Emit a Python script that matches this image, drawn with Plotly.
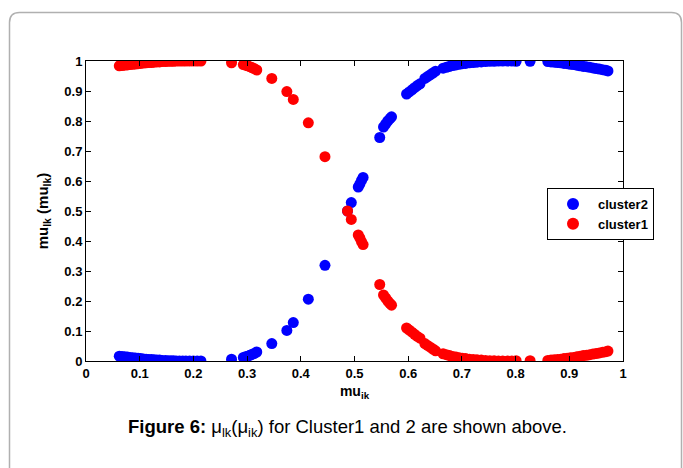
import plotly.graph_objects as go

# ---- data ----
mu_ik = [
    0.062, 0.067, 0.072, 0.077, 0.082, 0.087, 0.092, 0.097, 0.102, 0.107,
    0.112, 0.117, 0.122, 0.127, 0.132, 0.137, 0.142, 0.148, 0.153, 0.158,
    0.163, 0.168, 0.174, 0.180, 0.186, 0.193, 0.200, 0.207, 0.214,
    0.271,
    0.293, 0.297, 0.301, 0.305, 0.309, 0.313, 0.318,
    0.346, 0.374, 0.386, 0.414, 0.445,
    0.487, 0.494,
    0.507, 0.510, 0.513, 0.516,
    0.547,
    0.554, 0.558, 0.562, 0.566, 0.569,
    0.597, 0.602, 0.607, 0.612, 0.617, 0.622,
    0.631, 0.636, 0.641, 0.646, 0.651,
    0.665, 0.671, 0.677, 0.683, 0.689, 0.695, 0.701, 0.707, 0.714, 0.721,
    0.728, 0.736, 0.744, 0.752, 0.760, 0.768, 0.776, 0.785, 0.793, 0.801,
    0.827,
    0.860, 0.866, 0.872, 0.878, 0.884, 0.890, 0.896, 0.902, 0.908, 0.914,
    0.920, 0.926, 0.932, 0.938, 0.944, 0.950, 0.956, 0.962, 0.968, 0.972,
]

cluster1 = [
    0.984, 0.985, 0.986, 0.987, 0.988, 0.989, 0.990, 0.991, 0.992, 0.993,
    0.994, 0.995, 0.995, 0.996, 0.997, 0.997, 0.998, 0.998, 0.999, 0.999,
    0.999, 1.000, 1.000, 1.000, 1.000, 1.000, 1.000, 1.000, 1.000,
    0.994,
    0.988, 0.986, 0.984, 0.981, 0.978, 0.975, 0.970,
    0.942, 0.898, 0.872, 0.794, 0.681,
    0.500, 0.472,
    0.420, 0.410, 0.398, 0.388,
    0.255,
    0.220, 0.210, 0.200, 0.192, 0.186,
    0.110, 0.103, 0.096, 0.089, 0.082, 0.076,
    0.058, 0.052, 0.046, 0.040, 0.034,
    0.024, 0.021, 0.018, 0.015, 0.013, 0.011, 0.009, 0.008, 0.006, 0.005,
    0.004, 0.003, 0.002, 0.001, 0.001, 0.000, 0.000, 0.000, 0.000, 0.001,
    0.001,
    0.002, 0.003, 0.004, 0.005, 0.006, 0.008, 0.009, 0.011, 0.012, 0.014,
    0.016, 0.018, 0.019, 0.021, 0.023, 0.025, 0.027, 0.029, 0.031, 0.033,
]

cluster2 = [
    0.016, 0.015, 0.014, 0.013, 0.012, 0.011, 0.010, 0.009, 0.008, 0.007,
    0.006, 0.005, 0.005, 0.004, 0.003, 0.003, 0.002, 0.002, 0.001, 0.001,
    0.001, 0.000, 0.000, 0.000, 0.000, 0.000, 0.000, 0.000, 0.000,
    0.006,
    0.012, 0.014, 0.016, 0.019, 0.022, 0.025, 0.030,
    0.058, 0.102, 0.128, 0.206, 0.319,
    0.500, 0.528,
    0.580, 0.590, 0.602, 0.612,
    0.745,
    0.780, 0.790, 0.800, 0.808, 0.814,
    0.890, 0.897, 0.904, 0.911, 0.918, 0.924,
    0.942, 0.948, 0.954, 0.960, 0.966,
    0.976, 0.979, 0.982, 0.985, 0.987, 0.989, 0.991, 0.992, 0.994, 0.995,
    0.996, 0.997, 0.998, 0.999, 0.999, 1.000, 1.000, 1.000, 1.000, 0.999,
    0.999,
    0.998, 0.997, 0.996, 0.995, 0.994, 0.992, 0.991, 0.989, 0.988, 0.986,
    0.984, 0.982, 0.981, 0.979, 0.977, 0.975, 0.973, 0.971, 0.969, 0.967,
]

tick_vals = [0, 0.1, 0.2, 0.3, 0.4, 0.5, 0.6, 0.7, 0.8, 0.9, 1]
tick_text = ["0", "0.1", "0.2", "0.3", "0.4", "0.5", "0.6", "0.7", "0.8", "0.9", "1"]

# ---- figure ----
W, H = 683, 468
L, R, T, B = 86, 60, 61, 107
pw, ph = W - L - R, H - T - B

def px(x):
    return (x - L) / pw

def py(y):
    return (H - B - y) / ph

FONT = "Arial, Liberation Sans, sans-serif"

fig = go.Figure()
fig.add_trace(go.Scatter(x=mu_ik, y=cluster2, mode="markers", name="cluster2",
                         marker=dict(color="#0000ff", size=11, line=dict(width=0))))
fig.add_trace(go.Scatter(x=mu_ik, y=cluster1, mode="markers", name="cluster1",
                         marker=dict(color="#ff0000", size=11, line=dict(width=0))))

axis_common = dict(
    range=[0, 1], tickvals=tick_vals, ticktext=tick_text, automargin=False,
    showgrid=False, zeroline=False, showline=True, linecolor="black", linewidth=1,
    mirror="ticks", ticks="inside", ticklen=5, tickcolor="black", tickwidth=1,
    tickfont=dict(family=FONT, size=13, color="black", weight="bold"),
)

fig.update_xaxes(**axis_common,
                 title=dict(text="<b>mu<sub>ik</sub></b>", standoff=6,
                            font=dict(family=FONT, size=14, color="black")))
fig.update_yaxes(**axis_common,
                 title=dict(text="<b>mu<sub>lk</sub> (mu<sub>lk</sub>)</b>", standoff=12,
                            font=dict(family=FONT, size=15, color="black")))

# rounded outer frame
x0, x1, y0, y1 = 9.5, 681.5, 12.5, 480
r = 10
rx, ry = r / pw, r / ph
path = (f"M {px(x0)+rx},{py(y0)} L {px(x1)-rx},{py(y0)} "
        f"Q {px(x1)},{py(y0)} {px(x1)},{py(y0)-ry} "
        f"L {px(x1)},{py(y1)} L {px(x0)},{py(y1)} L {px(x0)},{py(y0)-ry} "
        f"Q {px(x0)},{py(y0)} {px(x0)+rx},{py(y0)} Z")
fig.add_shape(type="path", path=path, xref="paper", yref="paper",
              line=dict(color="#b0b0b0", width=1.5), layer="below")

fig.add_annotation(
    text="<b>Figure 6:</b> μ<sub>lk</sub>(μ<sub>ik</sub>) for Cluster1 and 2 are shown above.",
    x=px(347), y=py(428), xref="paper", yref="paper", showarrow=False,
    xanchor="center", yanchor="middle",
    font=dict(family=FONT, size=18.5, color="black"),
)

fig.update_layout(
    width=W, height=H,
    margin=dict(l=L, r=R, t=T, b=B, pad=0, autoexpand=False),
    paper_bgcolor="white", plot_bgcolor="white",
    showlegend=True,
    legend=dict(x=px(547), y=py(188), xanchor="left", yanchor="top",
                bgcolor="white", bordercolor="black", borderwidth=1,
                font=dict(family=FONT, size=13, color="black", weight="bold"),
                itemsizing="constant", itemwidth=40, tracegroupgap=0),
)

fig.write_html("out.html", config={"displayModeBar": False},
               post_script="document.body.style.margin='0';document.body.style.overflow='hidden';")
